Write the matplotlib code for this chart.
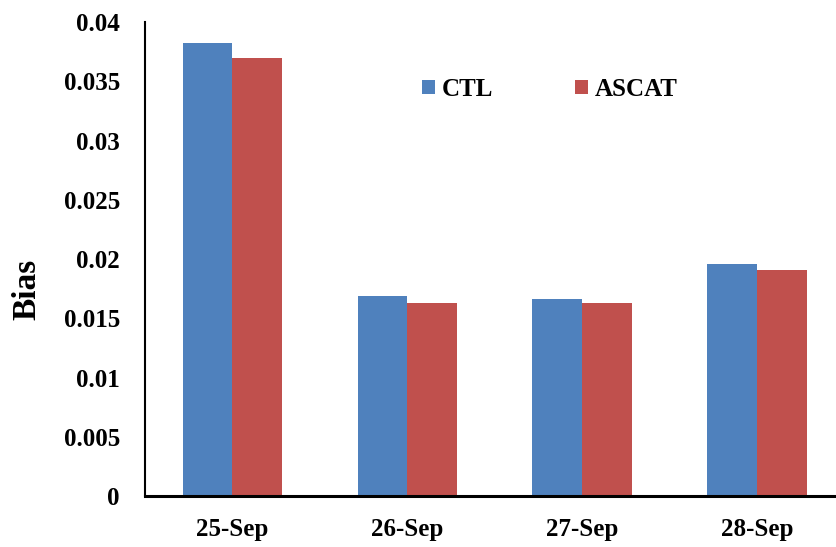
import matplotlib
matplotlib.use("Agg")
import matplotlib.pyplot as plt
import numpy as np

dates = ["25-Sep", "26-Sep", "27-Sep", "28-Sep"]
ctl = [0.0382, 0.0169, 0.0166, 0.0196]
ascat = [0.0370, 0.0163, 0.0163, 0.0191]
yticks = [0, 0.005, 0.01, 0.015, 0.02, 0.025, 0.03, 0.035, 0.04]
ytick_labels = ["0", "0.005", "0.01", "0.015", "0.02", "0.025", "0.03", "0.035", "0.04"]

C_CTL = "#4F81BD"
C_ASCAT = "#C0504D"

plt.rcParams["font.family"] = ["Liberation Serif", "DejaVu Serif"]
plt.rcParams["font.weight"] = "bold"

fig = plt.figure(figsize=(8.36, 5.47), dpi=100)
ax = fig.add_axes([0.1734, 0.0932, 0.837, 0.8665])

x = np.arange(len(dates))
w = 0.285
ax.bar(x - w / 2, ctl, w, color=C_CTL, label="CTL")
ax.bar(x + w / 2, ascat, w, color=C_ASCAT, label="ASCAT")

ax.set_xlim(-0.5, 3.5)
ax.set_ylim(0, 0.04)
ax.set_xticks(x)
ax.set_xticklabels(dates, fontsize=18, fontweight="bold")
ax.set_yticks(yticks)
ax.set_yticklabels(ytick_labels, fontsize=18, fontweight="bold")
ax.tick_params(axis="both", length=0)
ax.tick_params(axis="y", pad=18)
ax.tick_params(axis="x", pad=16)

for s in ("top", "right"):
    ax.spines[s].set_visible(False)
ax.spines["left"].set_linewidth(1.5)
ax.spines["bottom"].set_linewidth(2.2)

ax.set_ylabel("Bias", fontsize=24, fontweight="bold")
ax.yaxis.set_label_coords(-0.147, 0.435)

ax.legend(loc="center left", bbox_to_anchor=(0.396, 0.858), ncol=2, frameon=False,
          prop={"weight": "bold", "size": 18}, borderpad=0, borderaxespad=0,
          handlelength=0.52, handleheight=0.52, handletextpad=0.25, columnspacing=3.3)

fig.savefig("out.png", dpi=100)
